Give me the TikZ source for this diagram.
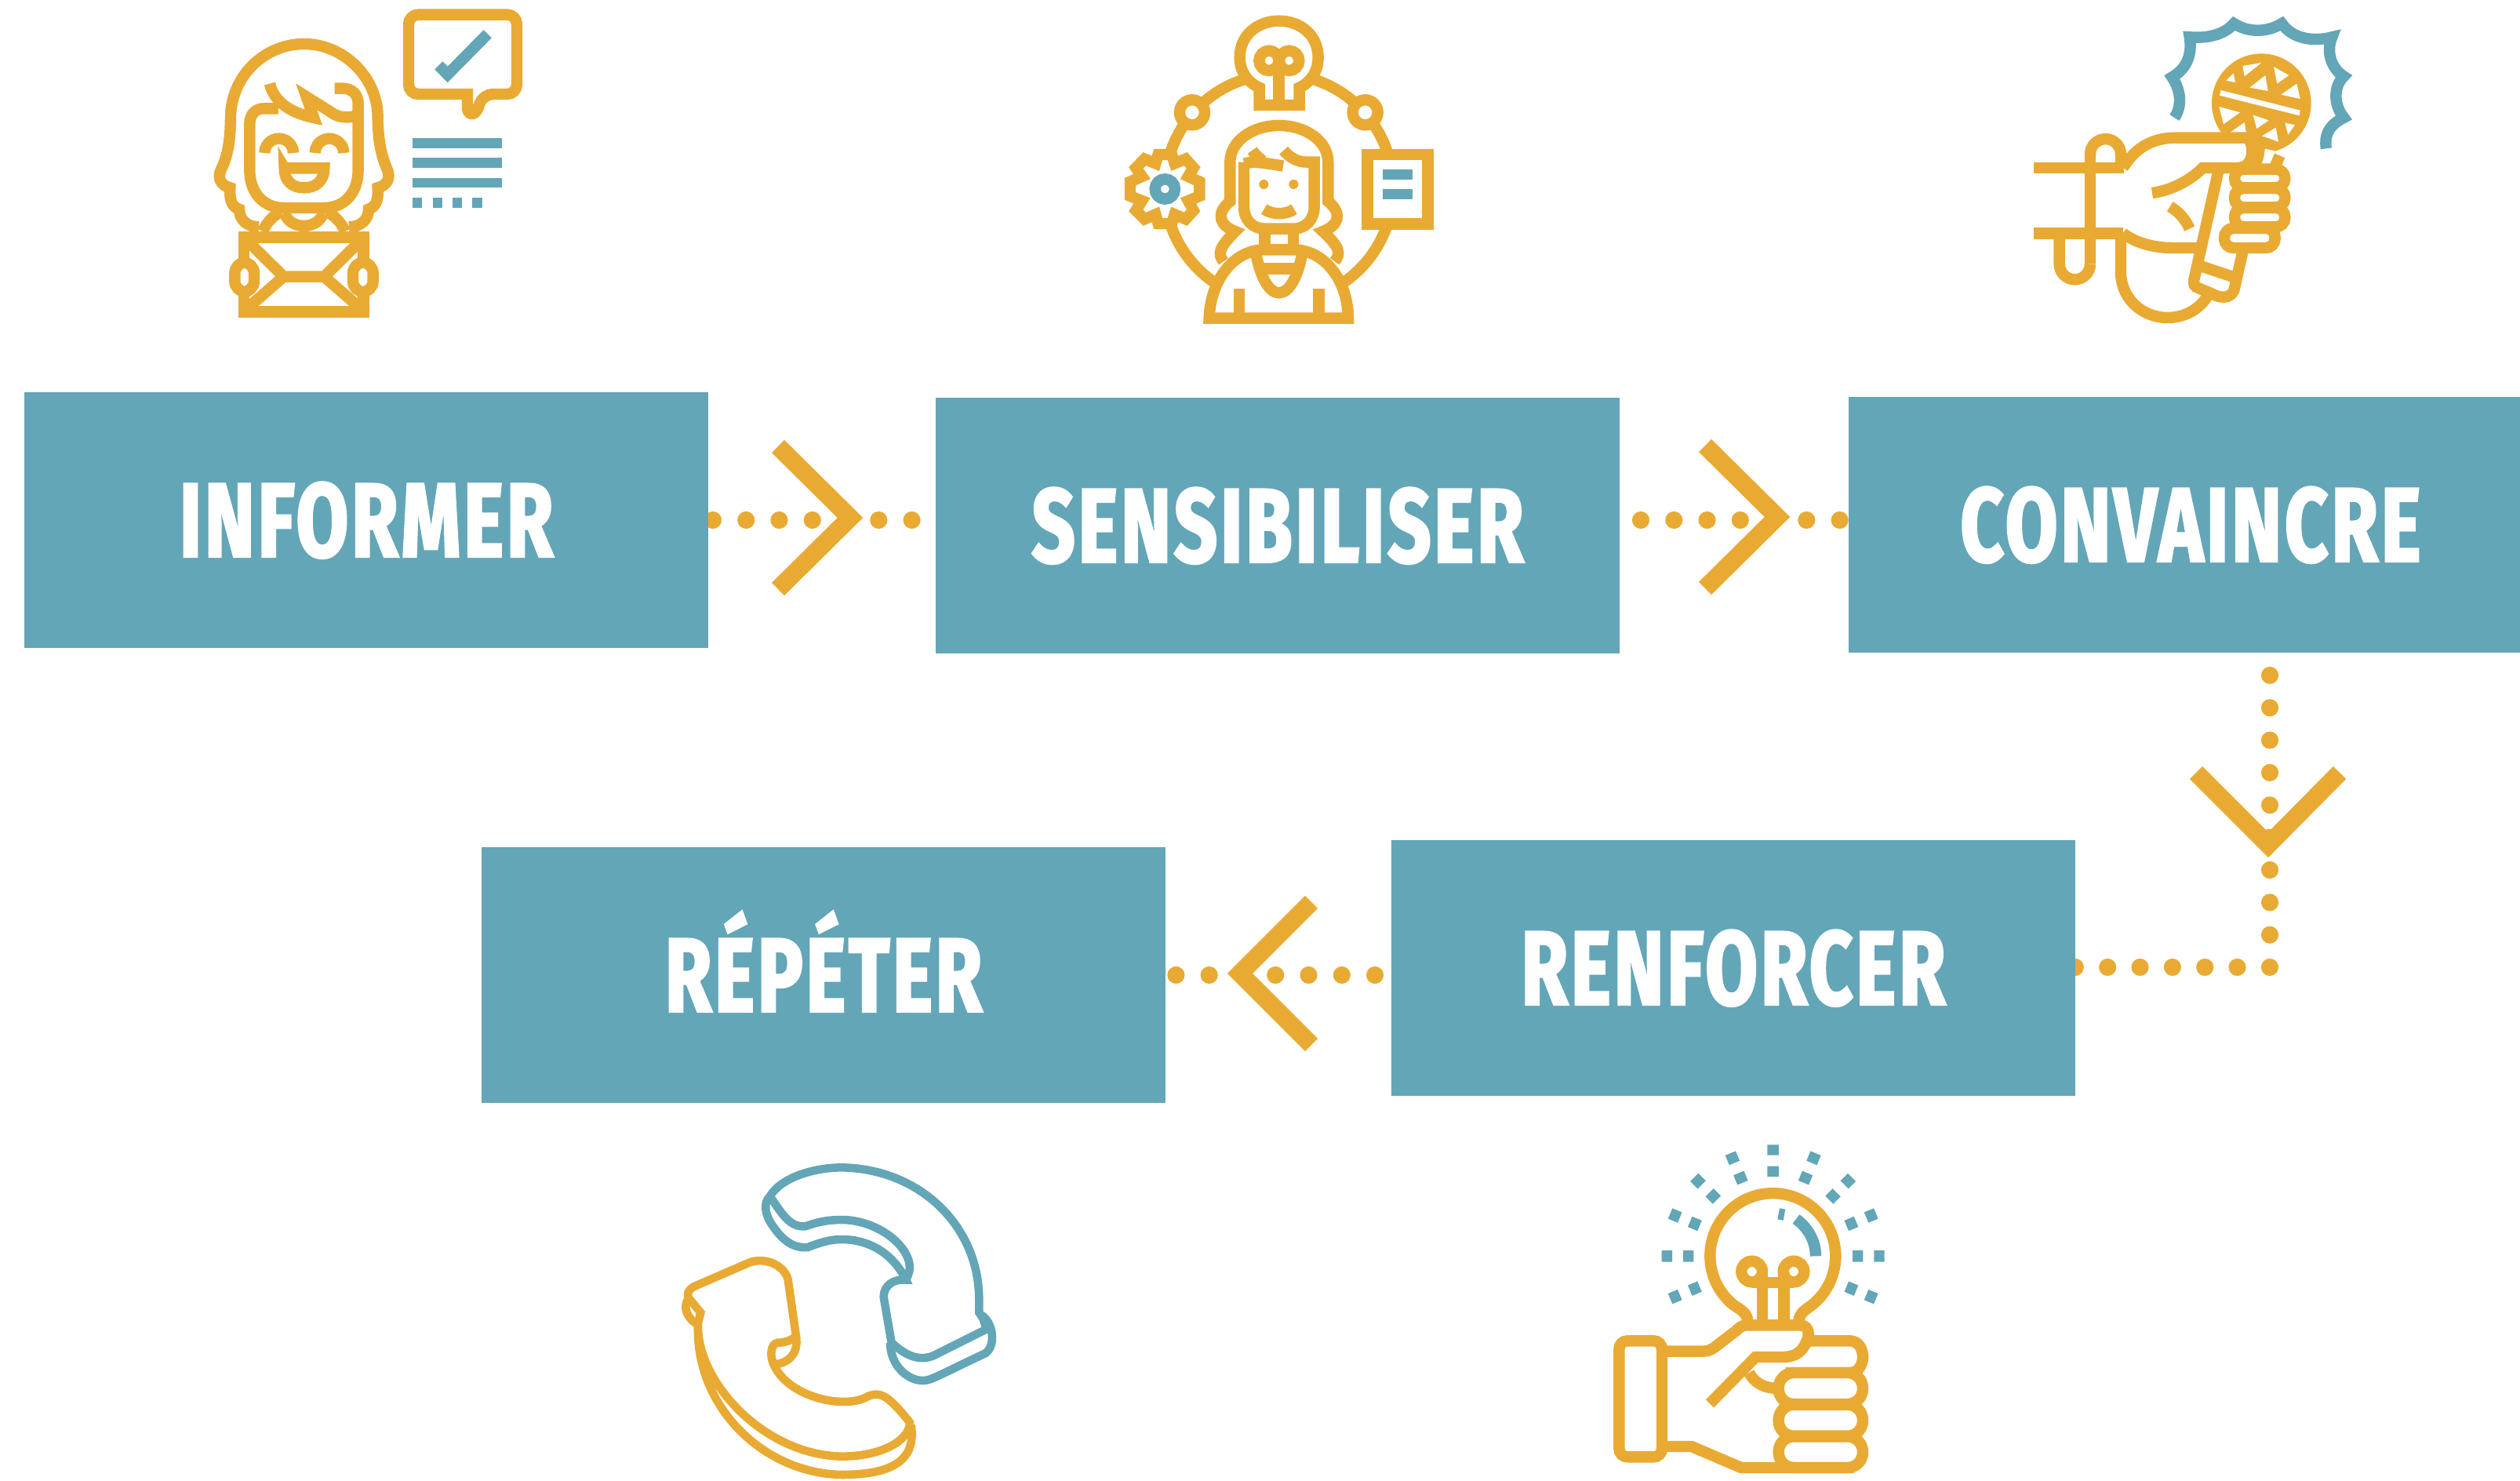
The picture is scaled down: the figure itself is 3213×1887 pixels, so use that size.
\documentclass[tikz,border=0pt]{standalone}
\usepackage{fontspec}
\usetikzlibrary{backgrounds}
\newfontfamily\stagefont[FakeStretch=0.72,LetterSpace=3,BoldFeatures={FakeBold=2.2}]{Fira Sans}
\definecolor{gold}{HTML}{E9AA33}
\definecolor{teal}{HTML}{63A6B7}

\begin{document}
\begin{tikzpicture}[x=0.01cm,y=-0.01cm]
    \tikzset{stage/.style={rectangle,fill=teal,text=white,minimum width=8.72cm,minimum height=3.26cm,inner sep=0pt,text height=0.93cm,text depth=0pt,font=\stagefont\bfseries\fontsize{38}{38}\selectfont}}
    \tikzset{flow/.style={draw=gold,line width=6.3pt,line cap=round}}
    \tikzset{chevron/.style={draw=gold,line width=6.5pt,miter limit=4}}
    \tikzset{icon/.style={draw=gold,line width=4.1pt}}
    \tikzset{tealicon/.style={draw=teal,line width=4.1pt}}
    \tikzset{wash/.style={fill=white}}
    \useasboundingbox (0,0) rectangle (3213,1887);

    \node[stage] at (467,663) (informer) {INFORMER};
    \node[stage] at (1629,670) (sensibiliser) {SENSIBILISER};
    \node[stage] at (2793,669) (convaincre) {CONVAINCRE};
    \node[stage] at (2210,1234) (renforcer) {RENFORCER};
    \node[stage] at (1050,1243) (repeter) {RÉPÉTER};
    \coordinate (corner) at (2894,1233);

    \begin{pgfonlayer}{background}
    \draw[flow,dash pattern=on 0pt off 12.02pt,dash phase=10.6pt] (informer.east) -- (sensibiliser.west |- informer.east);
    \draw[flow,dash pattern=on 0pt off 12.02pt,dash phase=4.62pt] (sensibiliser.east |- informer.east) -- (convaincre.west |- informer.east);
    \draw[flow,dash pattern=on 0pt off 11.76pt,dash phase=3.77pt] (corner |- convaincre.south) -- (corner) -- (renforcer.center |- corner);
    \draw[flow,dash pattern=on 0pt off 12.02pt,dash phase=6.33pt] (renforcer.west |- repeter.east) -- (repeter.east);
    \end{pgfonlayer}

    \draw[chevron] (992,569) -- (1084,660) -- (992,751);
    \draw[chevron] (2174,568) -- (2266,659) -- (2174,750);
    \draw[chevron] (2800,985) -- (2892,1077) -- (2983,985);
    \draw[chevron] (1672,1150) -- (1581,1241) -- (1672,1332);

    % informer
    \begin{scope}[shift={(240,0)},scale=0.3333]
    \draw[icon] (270,868) .. controls (225,868) and (195,840) .. (195,800) .. controls (160,790) and (158,750) .. (160,718) .. controls (125,710) and (110,680) .. (125,650) .. controls (150,600) and (162,540) .. (162,440) .. controls (170,280) and (300,168) .. (443,168) .. controls (590,168) and (720,290) .. (725,440) .. controls (725,540) and (740,600) .. (762,650) .. controls (775,680) and (760,710) .. (725,718) .. controls (727,750) and (725,790) .. (690,800) .. controls (690,840) and (660,868) .. (615,868);
    \draw[icon] (345,415) -- (290,415) .. controls (255,415) and (235,440) .. (235,475) -- (235,650) .. controls (235,740) and (290,795) .. (365,795) -- (520,795) .. controls (595,795) and (650,740) .. (650,650) -- (650,395) .. controls (650,360) and (625,338) .. (590,338) -- (560,338);
    \draw[icon] (312,320) .. controls (325,380) and (380,430) .. (480,450) -- (452,370) -- (540,425) .. controls (570,450) and (610,455) .. (650,440);
    \draw[icon] (292,585) arc (180:360:55);
    \draw[icon] (485,585) arc (180:360:55);
    \draw[icon] (368,643) -- (520,643) .. controls (520,695) and (485,718) .. (443,718) .. controls (400,718) and (368,695) .. cycle;
    \draw[icon] (285,885) .. controls (300,850) and (325,825) .. (355,810);
    \draw[icon] (600,885) .. controls (585,850) and (560,825) .. (530,810);
    \draw[icon] (370,815) .. controls (385,880) and (500,880) .. (515,815);
    \draw[icon] (213,908) rectangle (670,1192);
    \draw[icon] (225,920) -- (365,1058) -- (520,1058) -- (660,920);
    \draw[icon] (225,1180) -- (365,1058);
    \draw[icon] (660,1180) -- (520,1058);
    \draw[icon,wash,rounded corners=4pt] (178,1003) rectangle (252,1117);
    \draw[icon,wash,rounded corners=4pt] (630,1003) rectangle (707,1117);
    \draw[icon,rounded corners=3.5pt] (1068,360) -- (843,360) -- (843,56) -- (1257,56) -- (1257,360) -- (1128,360) [sharp corners] -- (1108,415) .. controls (1095,445) and (1068,440) .. (1068,410) -- cycle;
    \draw[tealicon] (958,250) -- (992,285) -- (1145,130);
    \draw[tealicon,line width=3.6pt] (858,548) -- (1200,548);
    \draw[tealicon,line width=3.6pt] (858,623) -- (1200,623);
    \draw[tealicon,line width=3.6pt] (858,699) -- (1200,699);
    \draw[tealicon,line width=3.6pt] (858,776) -- (895,776) (935,776) -- (972,776) (1010,776) -- (1048,776) (1087,776) -- (1125,776);
    \end{scope}

    % sensibiliser
    \begin{scope}[shift={(1400,10)},scale=0.3333]
    \draw[icon] (692,690) circle (437);
    \draw[icon,wash] (360,400) circle (48);
    \draw[icon,wash] (1022,400) circle (48);
    \draw[icon,wash] (617,372) -- (617,305) .. controls (570,285) and (542,240) .. (542,190) .. controls (542,105) and (610,50) .. (692,50) .. controls (775,50) and (842,105) .. (842,190) .. controls (842,240) and (815,285) .. (770,305) -- (770,372) -- cycle;
    \draw[icon] (692,372) -- (692,240);
    \draw[icon] (654,202) circle (38);
    \draw[icon] (731,202) circle (38);
    \draw[icon,wash] (256,561) -- (282,561) -- (293,595) -- (335,578) -- (365,612) -- (345,645) -- (388,665) -- (388,720) -- (345,738) -- (365,775) -- (335,808) -- (293,790) -- (282,825) -- (230,825) -- (220,790) -- (178,808) -- (145,775) -- (168,738) -- (123,720) -- (123,665) -- (168,645) -- (145,612) -- (178,578) -- (220,595) -- (230,561) -- cycle;
    \draw[tealicon] (256,693) circle (38);
    \draw[icon,wash] (1031,561) rectangle (1262,827);
    \draw[tealicon,line width=3.6pt] (1088,637) -- (1204,637);
    \draw[tealicon,line width=3.6pt] (1088,713) -- (1204,713);
    \draw[icon,wash] (480,970) .. controls (455,940) and (465,915) .. (525,855) .. controls (470,835) and (445,790) .. (505,740) -- (505,590) .. controls (505,510) and (590,450) .. (692,450) .. controls (795,450) and (880,510) .. (880,590) -- (880,740) .. controls (940,790) and (915,835) .. (860,855) .. controls (925,915) and (930,940) .. (905,970);
    \draw[icon] (558,590) -- (558,760) .. controls (558,810) and (590,845) .. (640,845) -- (745,845) .. controls (795,845) and (827,810) .. (827,760) -- (827,590) -- (800,590) .. controls (760,590) and (730,570) .. (710,545);
    \draw[icon] (558,595) -- (590,590) .. controls (620,590) and (680,600) .. (708,605);
    \draw[icon] (590,545) .. controls (600,560) and (610,570) .. (630,585);
    \fill[gold] (634,675) circle (18);
    \fill[gold] (748,675) circle (18);
    \draw[icon] (635,770) .. controls (665,792) and (720,792) .. (750,770);
    \draw[icon,wash] (425,1187) .. controls (430,1040) and (520,925) .. (637,925) -- (747,925) .. controls (865,925) and (955,1040) .. (957,1187) -- cycle;
    \draw[icon] (637,845) -- (637,935);
    \draw[icon] (747,845) -- (747,935);
    \draw[icon] (605,945) .. controls (620,1020) and (650,1090) .. (692,1090) .. controls (735,1090) and (765,1020) .. (780,945);
    \draw[icon] (620,997) -- (765,997);
    \draw[icon] (540,1075) -- (540,1187);
    \draw[icon] (845,1075) -- (845,1187);
    \end{scope}

    % convaincre
    \begin{scope}[shift={(2560,10)},scale=0.3333]
    \draw[tealicon,miter limit=6] (637,420) .. controls (665,380) and (665,320) .. (628,265) .. controls (690,230) and (705,170) .. (695,112) .. controls (770,118) and (830,100) .. (865,60) .. controls (920,95) and (990,95) .. (1048,60) .. controls (1090,120) and (1170,130) .. (1240,112) .. controls (1215,170) and (1240,235) .. (1285,262) .. controls (1245,300) and (1245,370) .. (1285,420) .. controls (1225,450) and (1210,490) .. (1218,538);
    \fill[gold] (970,365) circle (190);
    \fill[white] (835,278) -- (863,250) -- (870,285) -- cycle;
    \fill[white] (898,222) -- (970,210) -- (905,262) -- cycle;
    \fill[white] (925,305) -- (985,258) -- (995,318) -- cycle;
    \fill[white] (1017,225) -- (1075,258) -- (1030,290) -- cycle;
    \fill[white] (1045,332) -- (1105,290) -- (1118,348) -- cycle;
    \fill[white] (815,315) -- (1118,392) -- (1115,412) -- (810,335) -- cycle;
    \fill[white] (808,378) -- (888,400) -- (825,445) -- cycle;
    \fill[white] (848,478) -- (905,438) -- (912,478) -- cycle;
    \fill[white] (938,410) -- (998,430) -- (952,462) -- cycle;
    \fill[white] (972,490) -- (1025,458) -- (1035,512) -- cycle;
    \fill[white] (1060,440) -- (1098,448) -- (1072,485) -- cycle;
    \fill[white] (962,535) -- (1020,547) -- (1008,600) -- (950,600) -- cycle;
    \draw[icon] (1040,565) -- (1020,612);
    \draw[icon] (960,520) .. controls (965,550) and (955,580) .. (945,600);
    \draw[icon] (805,625) -- (712,1040) .. controls (708,1058) and (715,1068) .. (730,1072) -- (800,1102) .. controls (840,1115) and (860,1095) .. (865,1080) -- (900,925);
    \draw[icon] (730,985) -- (865,1030);
    \draw[icon] (100,612) -- (445,612);
    \draw[icon] (100,862) -- (440,862);
    \draw[icon] (197,870) -- (197,980) arc (180:0:59) ;
    \draw[icon] (315,980) -- (315,560) arc (180:360:58.5) -- (432,612);
    \draw[icon,wash] (440,612) .. controls (490,530) and (560,497) .. (640,497) -- (915,497) .. controls (945,520) and (945,612) .. (880,612) -- (745,612) .. controls (700,660) and (620,700) .. (552,708);
    \draw[icon] (620,760) .. controls (655,780) and (680,810) .. (695,845);
    \draw[icon] (440,862) .. controls (490,900) and (560,918) .. (630,918) -- (725,918);
    \draw[icon] (432,880) -- (432,1020) .. controls (440,1130) and (530,1185) .. (610,1185) .. controls (680,1185) and (735,1150) .. (765,1100);
    \draw[icon,wash,rounded corners=3.3pt] (867,617) rectangle (1060,688);
    \draw[icon,wash,rounded corners=3.3pt] (867,690) rectangle (1060,763);
    \draw[icon,wash,rounded corners=3.3pt] (867,765) rectangle (1060,838);
    \draw[icon,wash,rounded corners=3.3pt] (828,843) rectangle (1022,918);
    \end{scope}

    % renforcer
    \begin{scope}[shift={(2030,1440)},scale=0.3333]
    \draw[icon] (595,730) .. controls (590,700) and (570,690) .. (540,670) arc (129:411:240) .. controls (815,690) and (795,700) .. (790,730);
    \draw[icon] (611,543) circle (40);
    \draw[icon] (771,543) circle (40);
    \draw[icon] (651,545) -- (651,740);
    \draw[icon] (733,545) -- (733,740);
    \draw[icon] (611,585) -- (771,585);
    \draw[tealicon] (713,322) -- (735,326);
    \draw[tealicon] (780,342) .. controls (825,375) and (855,425) .. (855,484);
    \begin{scope}[shift={(692,484)}]
    \draw[tealicon,dash pattern=on 3.79pt off 3.98pt] (270:426) -- (270:304) (247.5:426) -- (247.5:304) (225:426) -- (225:304) (202.5:426) -- (202.5:304) (180:426) -- (180:304) (157.5:426) -- (157.5:304) (292.5:426) -- (292.5:304) (315:426) -- (315:304) (337.5:426) -- (337.5:304) (0:426) -- (0:304) (22.5:426) -- (22.5:304);
    \end{scope}
    \draw[icon,wash] (800,808) -- (985,808) .. controls (1052,808) and (1052,930) .. (985,930) -- (740,930);
    \draw[icon,wash,rounded corners=5.5pt] (713,930) rectangle (1035,1050);
    \draw[icon,wash,rounded corners=5.5pt] (713,1052) rectangle (1035,1172);
    \draw[icon,wash,rounded corners=5.5pt] (713,1174) rectangle (1035,1293);
    \draw[icon] (600,930) .. controls (625,975) and (665,990) .. (715,990);
    \draw[icon] (285,1212) -- (380,1212) -- (570,1293) -- (1000,1293);
    \draw[icon,wash] (285,848) -- (420,848) .. controls (440,848) and (450,845) .. (465,835) -- (550,770) .. controls (565,755) and (575,748) .. (590,748) -- (795,748) .. controls (835,750) and (830,790) .. (820,810) .. controls (805,850) and (775,870) .. (730,870) -- (625,870) -- (450,1048);
    \draw[icon,wash,rounded corners=3pt] (103,808) rectangle (267,1252);
    \end{scope}

    % repeter
    \begin{scope}[shift={(840,1460)},scale=0.3333]
    \tikzset{thinicon/.style={line width=3pt}}
    \draw[tealicon,thinicon] (425,195) .. controls (470,120) and (600,85) .. (700,85) .. controls (1000,90) and (1225,310) .. (1225,590) -- (1225,640) .. controls (1240,660) and (1250,680) .. (1250,705) -- (1050,805) .. controls (1000,825) and (950,810) .. (890,755) -- (860,580) .. controls (860,535) and (900,510) .. (945,515) .. controls (900,420) and (810,360) .. (700,360) .. controls (650,360) and (610,375) .. (570,390) .. controls (510,395) and (470,360) .. (430,300) .. controls (405,260) and (400,220) .. (425,195) .. controls (470,260) and (500,315) .. (560,310) .. controls (590,300) and (630,285) .. (700,285) .. controls (830,285) and (960,380) .. (960,470) .. controls (958,490) and (950,505) .. (945,515);
    \draw[tealicon,thinicon] (885,755) .. controls (885,840) and (950,900) .. (1010,900) .. controls (1040,900) and (1060,885) .. (1250,795) .. controls (1290,765) and (1280,680) .. (1235,650);
    \draw[icon,thinicon] (115,585) .. controls (105,565) and (115,552) .. (135,540) -- (350,447) .. controls (420,425) and (490,470) .. (495,520) -- (525,730) .. controls (500,750) and (480,755) .. (455,755) .. controls (425,760) and (425,810) .. (440,840) .. controls (500,970) and (720,1010) .. (800,960) .. controls (850,940) and (880,960) .. (960,1060) .. controls (960,1130) and (850,1190) .. (700,1190) .. controls (400,1185) and (140,900) .. (150,680) -- (160,640) -- cycle;
    \draw[icon,thinicon] (115,585) .. controls (85,620) and (115,670) .. (150,685);
    \draw[icon,thinicon] (150,690) .. controls (140,1000) and (400,1255) .. (700,1260) .. controls (900,1260) and (985,1200) .. (965,1070);
    \draw[icon,thinicon] (525,735) .. controls (535,790) and (500,835) .. (440,838);
    \end{scope}
\end{tikzpicture}
\end{document}
